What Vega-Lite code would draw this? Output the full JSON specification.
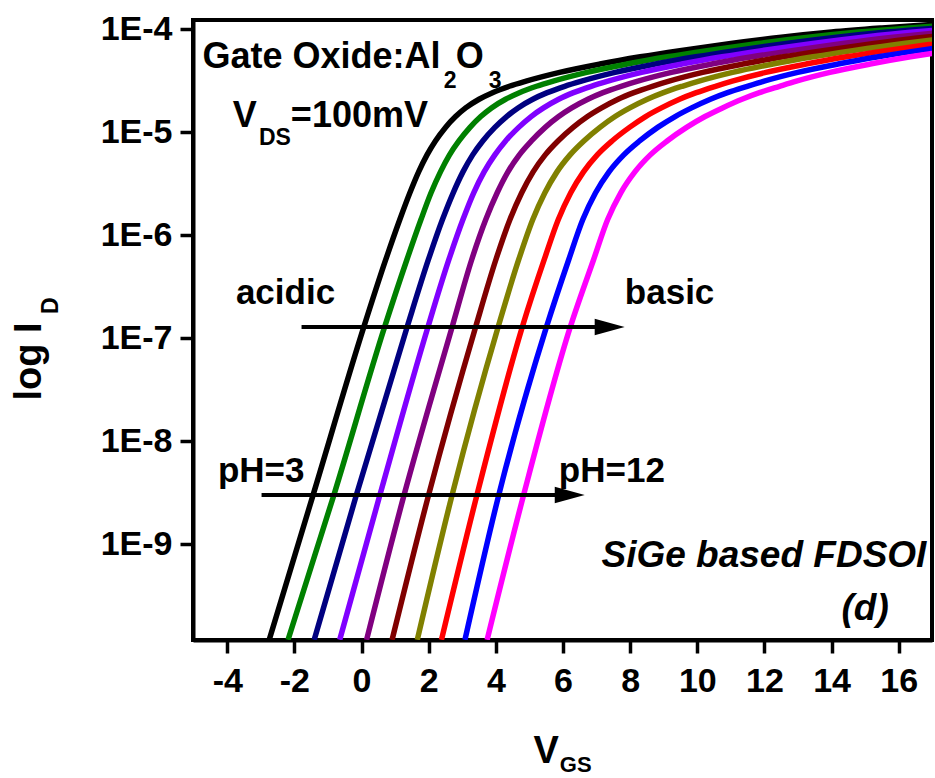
{
  "$schema": "https://vega.github.io/schema/vega-lite/v6.json",
  "width": 739,
  "height": 620,
  "autosize": {"type": "none"},
  "padding": {"left": 193, "top": 20, "right": 3, "bottom": 138},
  "background": "white",
  "config": {
    "view": {"stroke": "#000", "strokeWidth": 4},
    "font": "Liberation Sans",
    "axis": {"labelFont": "Liberation Sans", "titleFont": "Liberation Sans", "grid": false}
  },
  "datasets": {
    "curves": [
      {"pH":3,"vgs":-2.75,"id":1.175e-10},{"pH":3,"vgs":-1.44,"id":3.020e-9},{"pH":3,"vgs":0.07,"id":1.288e-7},{"pH":3,"vgs":0.72,"id":5.754e-7},{"pH":3,"vgs":1.14,"id":1.413e-6},{"pH":3,"vgs":1.44,"id":2.570e-6},{"pH":3,"vgs":1.70,"id":4.102e-6},{"pH":3,"vgs":1.95,"id":5.998e-6},{"pH":3,"vgs":2.20,"id":8.185e-6},{"pH":3,"vgs":2.50,"id":1.109e-5},{"pH":3,"vgs":2.80,"id":1.413e-5},{"pH":3,"vgs":3.10,"id":1.714e-5},{"pH":3,"vgs":3.50,"id":2.080e-5},{"pH":3,"vgs":3.90,"id":2.410e-5},{"pH":3,"vgs":4.40,"id":2.780e-5},{"pH":3,"vgs":4.90,"id":3.119e-5},{"pH":3,"vgs":5.90,"id":3.793e-5},{"pH":3,"vgs":7.10,"id":4.571e-5},{"pH":3,"vgs":8.30,"id":5.370e-5},{"pH":3,"vgs":9.48,"id":6.166e-5},{"pH":3,"vgs":11.0,"id":7.244e-5},{"pH":3,"vgs":12.5,"id":8.318e-5},{"pH":3,"vgs":14.0,"id":9.333e-5},{"pH":3,"vgs":15.5,"id":1.023e-4},{"pH":3,"vgs":17,"id":1.109e-4},
      {"pH":4,"vgs":-2.19,"id":1.175e-10},{"pH":4,"vgs":-0.82,"id":3.020e-9},{"pH":4,"vgs":0.69,"id":1.288e-7},{"pH":4,"vgs":1.35,"id":5.754e-7},{"pH":4,"vgs":1.77,"id":1.413e-6},{"pH":4,"vgs":2.07,"id":2.570e-6},{"pH":4,"vgs":2.35,"id":4.102e-6},{"pH":4,"vgs":2.62,"id":5.998e-6},{"pH":4,"vgs":2.90,"id":8.185e-6},{"pH":4,"vgs":3.23,"id":1.109e-5},{"pH":4,"vgs":3.55,"id":1.413e-5},{"pH":4,"vgs":3.87,"id":1.714e-5},{"pH":4,"vgs":4.29,"id":2.080e-5},{"pH":4,"vgs":4.70,"id":2.410e-5},{"pH":4,"vgs":5.21,"id":2.780e-5},{"pH":4,"vgs":5.71,"id":3.119e-5},{"pH":4,"vgs":6.71,"id":3.793e-5},{"pH":4,"vgs":7.91,"id":4.571e-5},{"pH":4,"vgs":9.11,"id":5.370e-5},{"pH":4,"vgs":10.29,"id":6.166e-5},{"pH":4,"vgs":11.81,"id":7.244e-5},{"pH":4,"vgs":13.31,"id":8.318e-5},{"pH":4,"vgs":14.81,"id":9.333e-5},{"pH":4,"vgs":16.31,"id":1.023e-4},{"pH":4,"vgs":17,"id":1.062e-4},
      {"pH":5,"vgs":-1.41,"id":1.175e-10},{"pH":5,"vgs":-0.15,"id":3.020e-9},{"pH":5,"vgs":1.36,"id":1.288e-7},{"pH":5,"vgs":1.99,"id":5.754e-7},{"pH":5,"vgs":2.41,"id":1.413e-6},{"pH":5,"vgs":2.73,"id":2.570e-6},{"pH":5,"vgs":3.02,"id":4.102e-6},{"pH":5,"vgs":3.31,"id":5.998e-6},{"pH":5,"vgs":3.61,"id":8.185e-6},{"pH":5,"vgs":3.97,"id":1.109e-5},{"pH":5,"vgs":4.32,"id":1.413e-5},{"pH":5,"vgs":4.66,"id":1.714e-5},{"pH":5,"vgs":5.10,"id":2.080e-5},{"pH":5,"vgs":5.53,"id":2.410e-5},{"pH":5,"vgs":6.05,"id":2.780e-5},{"pH":5,"vgs":6.55,"id":3.119e-5},{"pH":5,"vgs":7.55,"id":3.793e-5},{"pH":5,"vgs":8.75,"id":4.571e-5},{"pH":5,"vgs":9.95,"id":5.370e-5},{"pH":5,"vgs":11.13,"id":6.166e-5},{"pH":5,"vgs":12.65,"id":7.244e-5},{"pH":5,"vgs":14.15,"id":8.318e-5},{"pH":5,"vgs":15.65,"id":9.333e-5},{"pH":5,"vgs":17,"id":1.014e-4},
      {"pH":6,"vgs":-0.65,"id":1.175e-10},{"pH":6,"vgs":0.55,"id":3.020e-9},{"pH":6,"vgs":1.98,"id":1.288e-7},{"pH":6,"vgs":2.60,"id":5.754e-7},{"pH":6,"vgs":3.02,"id":1.413e-6},{"pH":6,"vgs":3.34,"id":2.570e-6},{"pH":6,"vgs":3.65,"id":4.102e-6},{"pH":6,"vgs":3.97,"id":5.998e-6},{"pH":6,"vgs":4.29,"id":8.185e-6},{"pH":6,"vgs":4.68,"id":1.109e-5},{"pH":6,"vgs":5.05,"id":1.413e-5},{"pH":6,"vgs":5.42,"id":1.714e-5},{"pH":6,"vgs":5.87,"id":2.080e-5},{"pH":6,"vgs":6.31,"id":2.410e-5},{"pH":6,"vgs":6.84,"id":2.780e-5},{"pH":6,"vgs":7.34,"id":3.119e-5},{"pH":6,"vgs":8.34,"id":3.793e-5},{"pH":6,"vgs":9.54,"id":4.571e-5},{"pH":6,"vgs":10.74,"id":5.370e-5},{"pH":6,"vgs":11.92,"id":6.166e-5},{"pH":6,"vgs":13.44,"id":7.244e-5},{"pH":6,"vgs":14.94,"id":8.318e-5},{"pH":6,"vgs":16.44,"id":9.333e-5},{"pH":6,"vgs":17,"id":9.661e-5},
      {"pH":7,"vgs":0.15,"id":1.175e-10},{"pH":7,"vgs":1.27,"id":3.020e-9},{"pH":7,"vgs":2.70,"id":1.288e-7},{"pH":7,"vgs":3.28,"id":5.754e-7},{"pH":7,"vgs":3.70,"id":1.413e-6},{"pH":7,"vgs":4.04,"id":2.570e-6},{"pH":7,"vgs":4.36,"id":4.102e-6},{"pH":7,"vgs":4.70,"id":5.998e-6},{"pH":7,"vgs":5.06,"id":8.185e-6},{"pH":7,"vgs":5.47,"id":1.109e-5},{"pH":7,"vgs":5.87,"id":1.413e-5},{"pH":7,"vgs":6.26,"id":1.714e-5},{"pH":7,"vgs":6.74,"id":2.080e-5},{"pH":7,"vgs":7.19,"id":2.410e-5},{"pH":7,"vgs":7.73,"id":2.780e-5},{"pH":7,"vgs":8.23,"id":3.119e-5},{"pH":7,"vgs":9.23,"id":3.793e-5},{"pH":7,"vgs":10.43,"id":4.571e-5},{"pH":7,"vgs":11.63,"id":5.370e-5},{"pH":7,"vgs":12.81,"id":6.166e-5},{"pH":7,"vgs":14.33,"id":7.244e-5},{"pH":7,"vgs":15.83,"id":8.318e-5},{"pH":7,"vgs":17,"id":9.099e-5},
      {"pH":8,"vgs":0.91,"id":1.175e-10},{"pH":8,"vgs":2.00,"id":3.020e-9},{"pH":8,"vgs":3.40,"id":1.288e-7},{"pH":8,"vgs":4.00,"id":5.754e-7},{"pH":8,"vgs":4.42,"id":1.413e-6},{"pH":8,"vgs":4.77,"id":2.570e-6},{"pH":8,"vgs":5.11,"id":4.102e-6},{"pH":8,"vgs":5.47,"id":5.998e-6},{"pH":8,"vgs":5.85,"id":8.185e-6},{"pH":8,"vgs":6.30,"id":1.109e-5},{"pH":8,"vgs":6.73,"id":1.413e-5},{"pH":8,"vgs":7.15,"id":1.714e-5},{"pH":8,"vgs":7.64,"id":2.080e-5},{"pH":8,"vgs":8.11,"id":2.410e-5},{"pH":8,"vgs":8.66,"id":2.780e-5},{"pH":8,"vgs":9.16,"id":3.119e-5},{"pH":8,"vgs":10.16,"id":3.793e-5},{"pH":8,"vgs":11.36,"id":4.571e-5},{"pH":8,"vgs":12.56,"id":5.370e-5},{"pH":8,"vgs":13.74,"id":6.166e-5},{"pH":8,"vgs":15.26,"id":7.244e-5},{"pH":8,"vgs":16.76,"id":8.318e-5},{"pH":8,"vgs":17,"id":8.472e-5},
      {"pH":9,"vgs":1.66,"id":1.175e-10},{"pH":9,"vgs":2.70,"id":3.020e-9},{"pH":9,"vgs":4.07,"id":1.288e-7},{"pH":9,"vgs":4.68,"id":5.754e-7},{"pH":9,"vgs":5.10,"id":1.413e-6},{"pH":9,"vgs":5.46,"id":2.570e-6},{"pH":9,"vgs":5.82,"id":4.102e-6},{"pH":9,"vgs":6.21,"id":5.998e-6},{"pH":9,"vgs":6.62,"id":8.185e-6},{"pH":9,"vgs":7.10,"id":1.109e-5},{"pH":9,"vgs":7.55,"id":1.413e-5},{"pH":9,"vgs":7.99,"id":1.714e-5},{"pH":9,"vgs":8.51,"id":2.080e-5},{"pH":9,"vgs":8.99,"id":2.410e-5},{"pH":9,"vgs":9.55,"id":2.780e-5},{"pH":9,"vgs":10.05,"id":3.119e-5},{"pH":9,"vgs":11.05,"id":3.793e-5},{"pH":9,"vgs":12.25,"id":4.571e-5},{"pH":9,"vgs":13.45,"id":5.370e-5},{"pH":9,"vgs":14.63,"id":6.166e-5},{"pH":9,"vgs":16.15,"id":7.244e-5},{"pH":9,"vgs":17,"id":7.834e-5},
      {"pH":10,"vgs":2.38,"id":1.175e-10},{"pH":10,"vgs":3.44,"id":3.020e-9},{"pH":10,"vgs":4.79,"id":1.288e-7},{"pH":10,"vgs":5.44,"id":5.754e-7},{"pH":10,"vgs":5.86,"id":1.413e-6},{"pH":10,"vgs":6.23,"id":2.570e-6},{"pH":10,"vgs":6.61,"id":4.102e-6},{"pH":10,"vgs":7.02,"id":5.998e-6},{"pH":10,"vgs":7.46,"id":8.185e-6},{"pH":10,"vgs":7.98,"id":1.109e-5},{"pH":10,"vgs":8.46,"id":1.413e-5},{"pH":10,"vgs":8.93,"id":1.714e-5},{"pH":10,"vgs":9.47,"id":2.080e-5},{"pH":10,"vgs":9.97,"id":2.410e-5},{"pH":10,"vgs":10.54,"id":2.780e-5},{"pH":10,"vgs":11.04,"id":3.119e-5},{"pH":10,"vgs":12.04,"id":3.793e-5},{"pH":10,"vgs":13.24,"id":4.571e-5},{"pH":10,"vgs":14.44,"id":5.370e-5},{"pH":10,"vgs":15.62,"id":6.166e-5},{"pH":10,"vgs":17,"id":7.145e-5},
      {"pH":11,"vgs":3.08,"id":1.175e-10},{"pH":11,"vgs":4.09,"id":3.020e-9},{"pH":11,"vgs":5.51,"id":1.288e-7},{"pH":11,"vgs":6.17,"id":5.754e-7},{"pH":11,"vgs":6.59,"id":1.413e-6},{"pH":11,"vgs":6.97,"id":2.570e-6},{"pH":11,"vgs":7.37,"id":4.102e-6},{"pH":11,"vgs":7.81,"id":5.998e-6},{"pH":11,"vgs":8.28,"id":8.185e-6},{"pH":11,"vgs":8.82,"id":1.109e-5},{"pH":11,"vgs":9.34,"id":1.413e-5},{"pH":11,"vgs":9.83,"id":1.714e-5},{"pH":11,"vgs":10.39,"id":2.080e-5},{"pH":11,"vgs":10.90,"id":2.410e-5},{"pH":11,"vgs":11.49,"id":2.780e-5},{"pH":11,"vgs":11.99,"id":3.119e-5},{"pH":11,"vgs":12.99,"id":3.793e-5},{"pH":11,"vgs":14.19,"id":4.571e-5},{"pH":11,"vgs":15.39,"id":5.370e-5},{"pH":11,"vgs":16.57,"id":6.166e-5},{"pH":11,"vgs":17,"id":6.457e-5},
      {"pH":12,"vgs":3.74,"id":1.175e-10},{"pH":12,"vgs":4.83,"id":3.020e-9},{"pH":12,"vgs":6.22,"id":1.288e-7},{"pH":12,"vgs":6.91,"id":5.754e-7},{"pH":12,"vgs":7.33,"id":1.413e-6},{"pH":12,"vgs":7.72,"id":2.570e-6},{"pH":12,"vgs":8.14,"id":4.102e-6},{"pH":12,"vgs":8.60,"id":5.998e-6},{"pH":12,"vgs":9.10,"id":8.185e-6},{"pH":12,"vgs":9.68,"id":1.109e-5},{"pH":12,"vgs":10.23,"id":1.413e-5},{"pH":12,"vgs":10.75,"id":1.714e-5},{"pH":12,"vgs":11.33,"id":2.080e-5},{"pH":12,"vgs":11.85,"id":2.410e-5},{"pH":12,"vgs":12.45,"id":2.780e-5},{"pH":12,"vgs":12.95,"id":3.119e-5},{"pH":12,"vgs":13.95,"id":3.793e-5},{"pH":12,"vgs":15.15,"id":4.571e-5},{"pH":12,"vgs":16.35,"id":5.370e-5},{"pH":12,"vgs":17,"id":5.794e-5}
    ],
    "arrows": [
      {"vgs": -1.787, "vgs2": 7.39, "id": 1.279e-7},
      {"vgs": -2.978, "vgs2": 6.20, "id": 2.992e-9}
    ],
    "heads": [
      {"vgs": 7.39, "id": 1.279e-7},
      {"vgs": 6.20, "id": 2.992e-9}
    ],
    "notes": [
      {"role":"head","text":"Gate Oxide:Al","vgs":-4.74,"id":4.153e-5},
      {"role":"head","text":"O","vgs":2.808,"id":4.153e-5},
      {"role":"sub","text":"2","vgs":2.451,"id":2.673e-5},
      {"role":"sub","text":"3","vgs":3.791,"id":2.673e-5},
      {"role":"head","text":"V","vgs":-3.833,"id":1.126e-5},
      {"role":"sub","text":"DS","vgs":-3.058,"id":7.478e-6},
      {"role":"head","text":"=100mV","vgs":-2.105,"id":1.126e-5},
      {"role":"label","text":"acidic","vgs":-3.743,"id":2.15e-7},
      {"role":"label","text":"basic","vgs":7.841,"id":2.15e-7},
      {"role":"label","text":"pH=3","vgs":-4.279,"id":4.027e-9},
      {"role":"label","text":"pH=12","vgs":5.876,"id":4.027e-9},
      {"role":"italic","text":"SiGe based FDSOI","vgs":7.147,"id":6.02e-10},
      {"role":"italic","text":"(d)","vgs":14.294,"id":1.828e-10},
      {"role":"axsub","text":"GS","vgs":5.905,"id":6.114e-12},
      {"role":"subrot","text":"D","vgs":-9.044,"id":1.71e-7}
    ]
  },
  "encoding": {
    "x": {
      "field": "vgs", "type": "quantitative",
      "scale": {"domain": [-5.02, 16.99], "nice": false, "zero": false},
      "axis": {
        "values": [-4, -2, 0, 2, 4, 6, 8, 10, 12, 14, 16],
        "labelExpr": "'' + datum.value",
        "labelFontSize": 34, "labelFontWeight": "bold", "labelColor": "#000",
        "labelPadding": 11, "labelFlush": false, "labelOverlap": false,
        "tickSize": 13, "tickWidth": 3.5, "tickColor": "#000",
        "domainColor": "#000", "domainWidth": 4,
        "title": "V", "titleFontSize": 38, "titleFontWeight": "bold", "titleColor": "#000",
        "titleAlign": "left", "titleBaseline": "alphabetic", "titleX": 340, "titleY": 122
      }
    },
    "y": {
      "field": "id", "type": "quantitative",
      "scale": {"type": "log", "domain": [1.17e-10, 1.223e-4], "nice": false},
      "axis": {
        "values": [1e-4, 1e-5, 1e-6, 1e-7, 1e-8, 1e-9],
        "labelExpr": "'1E' + round(log(datum.value) / LN10)",
        "labelFontSize": 34, "labelFontWeight": "bold", "labelColor": "#000",
        "labelPadding": 8, "labelFlush": false, "labelOverlap": false,
        "tickSize": 13, "tickWidth": 3.5, "tickColor": "#000",
        "domainColor": "#000", "domainWidth": 4,
        "title": "log I", "titleFontSize": 38, "titleFontWeight": "bold", "titleColor": "#000",
        "titleAngle": 270, "titleAlign": "center", "titleBaseline": "alphabetic", "titleX": -153, "titleY": 341
      }
    }
  },
  "layer": [
    {
      "data": {"name": "curves"},
      "mark": {"type": "line", "strokeWidth": 5.5, "interpolate": "monotone", "clip": true},
      "encoding": {
        "color": {
          "field": "pH", "type": "nominal",
          "scale": {"domain": [3, 4, 5, 6, 7, 8, 9, 10, 11, 12],
                    "range": ["#000000", "#008000", "#000080", "#8000FF", "#800080", "#800000", "#808000", "#FF0000", "#0000FF", "#FF00FF"]},
          "legend": null
        }
      }
    },
    {
      "data": {"name": "arrows"},
      "mark": {"type": "rule", "strokeWidth": 4, "color": "#000"},
      "encoding": {"x2": {"field": "vgs2"}}
    },
    {
      "data": {"name": "heads"},
      "mark": {"type": "point", "shape": "M-1,-0.55L1,0L-1,0.55Z", "size": 900, "filled": true, "color": "#000", "opacity": 1, "strokeWidth": 0},
      "encoding": {}
    },
    {
      "data": {"name": "notes"},
      "transform": [{"filter": "datum.role === 'head'"}],
      "mark": {"type": "text", "font": "Liberation Sans", "fontWeight": "bold", "fontSize": 36, "align": "left", "baseline": "alphabetic", "color": "#000"},
      "encoding": {"text": {"field": "text"}}
    },
    {
      "data": {"name": "notes"},
      "transform": [{"filter": "datum.role === 'sub'"}],
      "mark": {"type": "text", "font": "Liberation Sans", "fontWeight": "bold", "fontSize": 23, "align": "left", "baseline": "alphabetic", "color": "#000"},
      "encoding": {"text": {"field": "text"}}
    },
    {
      "data": {"name": "notes"},
      "transform": [{"filter": "datum.role === 'axsub'"}],
      "mark": {"type": "text", "font": "Liberation Sans", "fontWeight": "bold", "fontSize": 22, "align": "left", "baseline": "alphabetic", "color": "#000"},
      "encoding": {"text": {"field": "text"}}
    },
    {
      "data": {"name": "notes"},
      "transform": [{"filter": "datum.role === 'subrot'"}],
      "mark": {"type": "text", "font": "Liberation Sans", "fontWeight": "bold", "fontSize": 23, "align": "left", "baseline": "alphabetic", "angle": 270, "color": "#000"},
      "encoding": {"text": {"field": "text"}}
    },
    {
      "data": {"name": "notes"},
      "transform": [{"filter": "datum.role === 'label'"}],
      "mark": {"type": "text", "font": "Liberation Sans", "fontWeight": "bold", "fontSize": 35, "align": "left", "baseline": "alphabetic", "color": "#000"},
      "encoding": {"text": {"field": "text"}}
    },
    {
      "data": {"name": "notes"},
      "transform": [{"filter": "datum.role === 'italic'"}],
      "mark": {"type": "text", "font": "Liberation Sans", "fontWeight": "bold", "fontStyle": "italic", "fontSize": 37, "align": "left", "baseline": "alphabetic", "color": "#000"},
      "encoding": {"text": {"field": "text"}}
    }
  ]
}
